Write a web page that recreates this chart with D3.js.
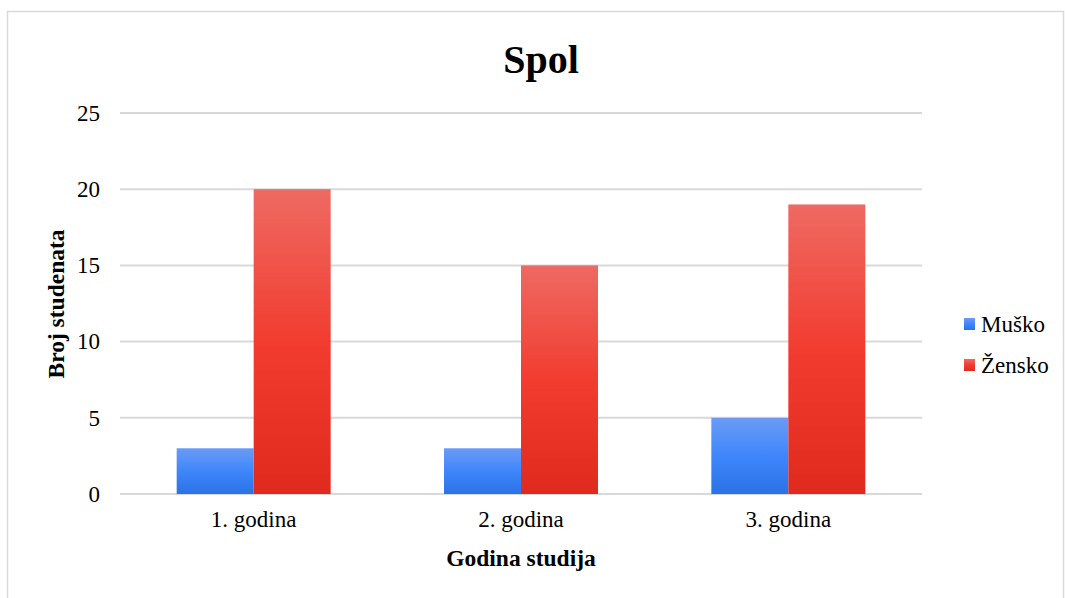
<!DOCTYPE html>
<html>
<head>
<meta charset="utf-8">
<script src="https://cdn.jsdelivr.net/npm/d3@7"></script>
<style>
  html, body { margin: 0; padding: 0; background: #fff; }
  svg { display: block; }
  text { font-family: "Liberation Serif", "Times New Roman", serif; fill: #000; }
</style>
</head>
<body>
<svg id="chart" width="1065" height="598"></svg>
<script>
// Student counts by year of study and gender
const categories = ["1. godina", "2. godina", "3. godina"];
const seriesNames = ["Muško", "Žensko"];
const musko = [3, 3, 5];
const zensko = [20, 15, 19];
const yTicks = [0, 5, 10, 15, 20, 25];

const svg = d3.select("#chart");
const W = 1065, H = 598;
const margin = { left: 120, right: 143, top: 113, bottom: 104 };
const plotW = W - margin.left - margin.right;
const plotH = H - margin.top - margin.bottom;

// Chart area border
svg.append("rect")
  .attr("x", 7.5).attr("y", 11.5)
  .attr("width", 1056).attr("height", 600)
  .attr("fill", "none").attr("stroke", "#d9d9d9").attr("stroke-width", 1.5);

// Gradients for the bar fills
const defs = svg.append("defs");
const gradients = [
  { id: "gBlue", stops: ["#6b9bf5", "#3f86fb", "#2a72e6"] },
  { id: "gRed", stops: ["#ee6a62", "#f23c30", "#e02a1e"] }
];
gradients.forEach(g => {
  const lg = defs.append("linearGradient").attr("id", g.id)
    .attr("x1", 0).attr("y1", 0).attr("x2", 0).attr("y2", 1);
  g.stops.forEach((c, i) => lg.append("stop")
    .attr("offset", (i * 50) + "%").attr("stop-color", c));
});
const fills = ["url(#gBlue)", "url(#gRed)"];

const g = svg.append("g").attr("transform", `translate(${margin.left},${margin.top})`);

const x0 = d3.scaleBand().domain(categories).range([0, plotW]).paddingInner(0.424).paddingOuter(0.212);
const x1 = d3.scaleBand().domain(seriesNames).range([0, x0.bandwidth()]);
const y = d3.scaleLinear().domain([0, 25]).range([plotH, 0]);

// Gridlines
g.append("g").selectAll("line").data(yTicks).join("line")
  .attr("x1", 0).attr("x2", plotW)
  .attr("y1", d => y(d)).attr("y2", d => y(d))
  .attr("stroke", "#d9d9d9").attr("stroke-width", 2);

// Y axis labels
const yAxis = d3.axisLeft(y).tickValues(yTicks).tickSize(0).tickPadding(20);
const ya = g.append("g").call(yAxis).attr("font-family", null).attr("font-size", null);
ya.select(".domain").remove();
ya.selectAll("text").attr("font-size", 23).attr("fill", "#000");

// X axis labels
const xAxis = d3.axisBottom(x0).tickSize(0).tickPadding(17);
const xa = g.append("g").attr("transform", `translate(0,${plotH})`).call(xAxis)
  .attr("font-family", null).attr("font-size", null);
xa.select(".domain").remove();
xa.selectAll("text").attr("font-size", 23).attr("fill", "#000");

// Bars
const data = categories.map((c, i) => ({ cat: c, vals: [musko[i], zensko[i]] }));
const groups = g.append("g").selectAll("g").data(data).join("g")
  .attr("transform", d => `translate(${x0(d.cat)},0)`);
groups.selectAll("rect").data(d => d.vals.map((v, j) => ({ s: seriesNames[j], v, j })))
  .join("rect")
  .attr("x", d => x1(d.s))
  .attr("width", x1.bandwidth())
  .attr("y", d => y(d.v))
  .attr("height", d => y(0) - y(d.v))
  .attr("fill", d => fills[d.j]);

// Title
svg.append("text").attr("x", 541).attr("y", 73)
  .attr("text-anchor", "middle").attr("font-size", 40).attr("font-weight", "bold")
  .text("Spol");

// Axis titles
svg.append("text").attr("x", 521).attr("y", 566)
  .attr("text-anchor", "middle").attr("font-size", 23.5).attr("font-weight", "bold")
  .text("Godina studija");
svg.append("text")
  .attr("transform", "translate(64,304) rotate(-90)")
  .attr("text-anchor", "middle").attr("font-size", 23.5).attr("font-weight", "bold")
  .text("Broj studenata");

// Legend
const legend = svg.append("g").attr("transform", "translate(964,318)");
seriesNames.forEach((name, i) => {
  const row = legend.append("g").attr("transform", `translate(0,${i * 41})`);
  row.append("rect").attr("width", 11).attr("height", 12).attr("fill", fills[i]);
  row.append("text").attr("x", 17).attr("y", 14).attr("font-size", 23).text(name);
});
</script>
</body>
</html>
